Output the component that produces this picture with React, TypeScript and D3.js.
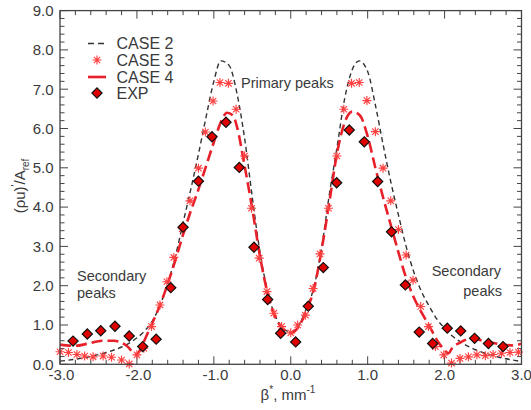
import React from "react";
import * as d3 from "d3";

const W = 531;
const H = 410;

// CASE 2 (black dashed)
const case2X = [-3.0, -2.8, -2.6, -2.4, -2.2, -2.05, -1.9, -1.8, -1.7, -1.6, -1.5, -1.4, -1.3, -1.2, -1.1, -1.0, -0.91, -0.8, -0.7, -0.6, -0.5, -0.4, -0.3, -0.2, -0.1, 0.0, 0.1, 0.2, 0.3, 0.4, 0.5, 0.6, 0.7, 0.8, 0.89, 1.0, 1.1, 1.2, 1.3, 1.4, 1.5, 1.6, 1.7, 1.8, 1.9, 2.0, 2.1, 2.2, 2.4, 2.6, 2.8, 3.0];
const case2Y = [0.08, 0.13, 0.2, 0.3, 0.44, 0.6, 0.85, 1.1, 1.5, 2.05, 2.75, 3.6, 4.45, 5.35, 6.3, 7.2, 7.72, 7.6, 6.9, 5.75, 4.25, 2.85, 1.85, 1.22, 0.92, 0.82, 0.98, 1.4, 1.95, 2.95, 4.3, 5.5, 6.75, 7.5, 7.72, 7.45, 6.6, 5.6, 4.65, 3.8, 3.0, 2.35, 1.85, 1.48, 1.15, 0.92, 0.72, 0.58, 0.37, 0.24, 0.14, 0.07];

// CASE 3 (red asterisks)
const case3X = [-3.0, -2.89, -2.78, -2.68, -2.57, -2.44, -2.33, -2.2, -2.1, -2.0, -1.91, -1.81, -1.7, -1.61, -1.52, -1.41, -1.31, -1.2, -1.11, -1.01, -0.92, -0.81, -0.71, -0.6, -0.51, -0.41, -0.31, -0.22, -0.12, 0.0, 0.09, 0.19, 0.29, 0.38, 0.49, 0.6, 0.69, 0.79, 0.89, 0.99, 1.1, 1.2, 1.3, 1.4, 1.5, 1.59, 1.69, 1.79, 1.88, 1.99, 2.09, 2.2, 2.31, 2.42, 2.53, 2.63, 2.74, 2.85, 2.96];
const case3Y = [0.32, 0.3, 0.25, 0.21, 0.19, 0.21, 0.18, 0.11, 0.01, 0.24, 0.41, 0.96, 1.51, 2.1, 2.72, 3.45, 4.16, 4.99, 5.91, 6.7, 7.17, 7.15, 6.49, 5.3, 3.97, 2.7, 1.85, 1.3, 0.96, 0.8, 1.0, 1.25, 1.93, 2.81, 3.97, 5.3, 6.49, 7.15, 7.17, 6.71, 5.92, 4.99, 4.16, 3.43, 2.78, 2.14, 1.47, 0.96, 0.45, 0.24, 0.03, 0.15, 0.19, 0.24, 0.22, 0.25, 0.28, 0.3, 0.31];

// CASE 4 (red long dashed)
const case4X = [-3.0, -2.8, -2.65, -2.45, -2.3, -2.2, -2.12, -2.05, -2.0, -1.95, -1.9, -1.8, -1.7, -1.6, -1.5, -1.4, -1.3, -1.2, -1.1, -1.0, -0.9, -0.83, -0.75, -0.7, -0.6, -0.5, -0.4, -0.3, -0.2, -0.1, 0.0, 0.1, 0.2, 0.3, 0.4, 0.5, 0.6, 0.7, 0.8, 0.9, 1.0, 1.1, 1.2, 1.3, 1.4, 1.5, 1.6, 1.7, 1.8, 1.9, 2.0, 2.05, 2.1, 2.2, 2.35, 2.5, 2.7, 2.9, 3.0];
const case4Y = [0.5, 0.47, 0.52, 0.6, 0.6, 0.55, 0.45, 0.3, 0.26, 0.4, 0.62, 1.05, 1.5, 2.05, 2.65, 3.3, 3.9, 4.45, 5.05, 5.65, 6.2, 6.4, 6.33, 6.05, 5.05, 3.95, 2.75, 1.8, 1.2, 0.9, 0.8, 0.95, 1.35, 1.9, 2.9, 4.1, 5.35, 6.15, 6.43, 6.33, 5.8, 5.0, 4.25, 3.55, 2.85, 2.2, 1.7, 1.32, 0.98, 0.62, 0.36, 0.28, 0.42, 0.55, 0.66, 0.6, 0.52, 0.48, 0.52];

// EXP (diamonds)
const expX = [-2.83, -2.645, -2.47, -2.285, -2.1, -1.925, -1.75, -1.56, -1.4, -1.2, -1.024, -0.842, -0.669, -0.478, -0.3, -0.131, 0.064, 0.228, 0.423, 0.597, 0.761, 0.956, 1.13, 1.31, 1.49, 1.67, 1.845, 2.035, 2.21, 2.39, 2.57, 2.76];
const expY = [0.59, 0.77, 0.855, 0.97, 0.72, 0.45, 0.64, 1.95, 3.49, 4.66, 5.79, 6.16, 5.01, 2.98, 1.65, 0.79, 0.57, 1.48, 2.46, 4.62, 5.96, 5.66, 4.65, 3.37, 2.02, 0.82, 0.53, 0.92, 0.85, 0.66, 0.53, 0.45];

const xMajor = [-3, -2, -1, 0, 1, 2, 3];
const xLabels = ["-3.0", "-2.0", "-1.0", "0.0", "1.0", "2.0", "3.0"];
const yMajor = [0, 1, 2, 3, 4, 5, 6, 7, 8, 9];
const yLabels = ["0.0", "1.0", "2.0", "3.0", "4.0", "5.0", "6.0", "7.0", "8.0", "9.0"];
const legendNames = ["CASE 2", "CASE 3", "CASE 4", "EXP"];

const FONT = "'Liberation Sans', Arial, Helvetica, sans-serif";
const TXT = "#3a3a3a";
const RED = "#e8202a";
const STAR = "#ff4040";

function asteriskPath(cx: number, cy: number, r: number) {
  const d = r * Math.SQRT1_2;
  return `M${cx - r},${cy}L${cx + r},${cy}M${cx},${cy - r}L${cx},${cy + r}M${cx - d},${cy - d}L${cx + d},${cy + d}M${cx - d},${cy + d}L${cx + d},${cy - d}`;
}

export default function App() {
  const x = d3.scaleLinear().domain([-3, 3]).range([60, 521.5]);
  const y = d3.scaleLinear().domain([0, 9]).range([364.3, 10.6]);
  const [x0, x1] = x.range();
  const [y0, y1] = y.range();

  const line = d3
    .line<[number, number]>()
    .x((d) => x(d[0]))
    .y((d) => y(d[1]))
    .curve(d3.curveMonotoneX);

  const c2 = case2X.map((v, i) => [v, case2Y[i]] as [number, number]);
  const c4 = case4X.map((v, i) => [v, case4Y[i]] as [number, number]);
  const diamond = d3.symbol().type(d3.symbolSquare).size(52)()!;

  const xMinor = d3.range(-3, 3.0001, 0.2);
  const yMinor = d3.range(0, 9.0001, 0.2);
  const majLen = 8;
  const minLen = 4.5;

  const legY = [43.5, 60, 77, 93];
  const legSymX = 97;

  return (
    <svg
      width={W}
      height={H}
      style={{ position: "absolute", left: 0, top: 0, background: "#fff" }}
      fontFamily={FONT}
    >
      <rect x={0} y={0} width={W} height={H} fill="#fff" />

      {/* ticks */}
      <g stroke="#444" strokeWidth={1}>
        {xMinor.map((t, i) => {
          const isMaj = Math.abs(t - Math.round(t)) < 1e-6;
          const l = isMaj ? majLen : minLen;
          return (
            <g key={"xt" + i}>
              <line x1={x(t)} x2={x(t)} y1={y0} y2={y0 - l} />
              <line x1={x(t)} x2={x(t)} y1={y1} y2={y1 + l} />
            </g>
          );
        })}
        {yMinor.map((t, i) => {
          const isMaj = Math.abs(t - Math.round(t)) < 1e-6;
          const l = isMaj ? majLen : minLen;
          return (
            <g key={"yt" + i}>
              <line x1={x0} x2={x0 + l} y1={y(t)} y2={y(t)} />
              <line x1={x1} x2={x1 - l} y1={y(t)} y2={y(t)} />
            </g>
          );
        })}
      </g>

      {/* data */}
      <path d={line(c2)!} fill="none" stroke="#333" strokeWidth={1.4} strokeDasharray="5,3.5" />
      <path d={line(c4)!} fill="none" stroke={RED} strokeWidth={2.6} strokeDasharray="11,5" />
      <g stroke={STAR} strokeWidth={1.15} fill="none">
        {case3X.map((v, i) => (
          <path key={"s" + i} d={asteriskPath(x(v), y(case3Y[i]), 4.5)} />
        ))}
      </g>
      <g fill="#e00000" stroke="#111" strokeWidth={1.2}>
        {expX.map((v, i) => (
          <path key={"e" + i} d={diamond} transform={`translate(${x(v)},${y(expY[i])}) rotate(45)`} />
        ))}
      </g>

      {/* frame */}
      <rect x={x0} y={y1} width={x1 - x0} height={y0 - y1} fill="none" stroke="#444" strokeWidth={1.3} />

      {/* tick labels */}
      <g fill={TXT} fontSize={15}>
        {xMajor.map((t, i) => (
          <text key={"xl" + i} x={x(t) + (t < 0 ? 1.5 : 0)} y={380} textAnchor="middle">
            {xLabels[i]}
          </text>
        ))}
        {yMajor.map((t, i) => (
          <text key={"yl" + i} x={53.5} y={y(t) + 5.3} textAnchor="end">
            {yLabels[i]}
          </text>
        ))}
      </g>

      {/* axis titles */}
      <text x={288} y={400} textAnchor="middle" fill={TXT} fontSize={15}>
        β<tspan fontSize={10} dy={-7}>*</tspan>
        <tspan dy={7}>, mm</tspan>
        <tspan fontSize={10} dy={-7}>-1</tspan>
      </text>
      <text transform="translate(25,186) rotate(-90)" textAnchor="middle" fill={TXT} fontSize={15}>
        (ρu)<tspan fontSize={10} dy={-6}>'</tspan>
        <tspan dy={6}>/A</tspan>
        <tspan fontSize={10} dy={4}>ref</tspan>
      </text>

      {/* annotations */}
      <g fill={TXT} fontSize={14.5}>
        <text x={241} y={88}>Primary peaks</text>
        <text x={77} y={280.5}>Secondary</text>
        <text x={77} y={297.5}>peaks</text>
        <text x={501} y={275.5} textAnchor="end">Secondary</text>
        <text x={502} y={295.5} textAnchor="end">peaks</text>
      </g>

      {/* legend */}
      <g>
        <line x1={88} x2={106} y1={legY[0]} y2={legY[0]} stroke="#333" strokeWidth={1.4} strokeDasharray="6,4" />
        <path d={asteriskPath(legSymX, legY[1], 4.5)} stroke={STAR} strokeWidth={1.15} fill="none" />
        <line x1={88} x2={106} y1={legY[2]} y2={legY[2]} stroke={RED} strokeWidth={2.6} />
        <path d={diamond} transform={`translate(${legSymX},${legY[3]}) rotate(45)`} fill="#e00000" stroke="#111" strokeWidth={1.2} />
        {legendNames.map((n, i) => (
          <text key={"lg" + i} x={116.5} y={legY[i] + 5.6} fill={TXT} fontSize={16}>
            {n}
          </text>
        ))}
      </g>
    </svg>
  );
}
